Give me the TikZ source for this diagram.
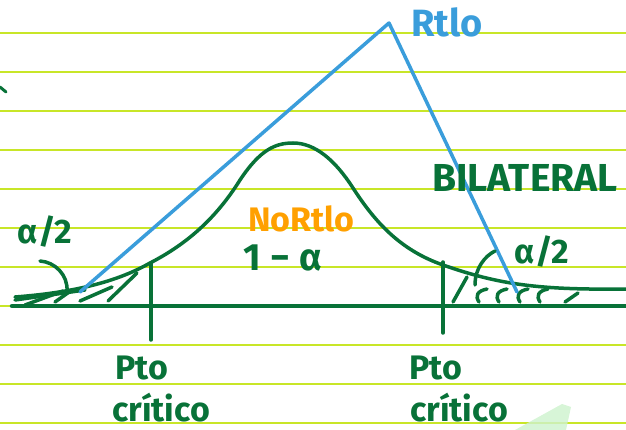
\documentclass[tikz,border=0pt]{standalone}
\usepackage{fontspec}
\setmainfont{Fira Sans}

\definecolor{renglon}{RGB}{200,230,40}
\definecolor{verdeo}{RGB}{8,114,56}
\definecolor{azul}{RGB}{58,157,219}
\definecolor{naranja}{RGB}{255,160,0}
\definecolor{resalte}{RGB}{205,242,205}

\begin{document}
\begin{tikzpicture}[x=1pt, y=-1pt, line width=3.5pt, line cap=round, line join=round,
  trazo/.style={draw=verdeo, line width=3.5pt},
  letra/.style={inner sep=0pt, font=\fontsize{#1}{#1}\selectfont\bfseries}]

  %% ════ renglones del papel ════
  \foreach \y in {33,72,...,423}
    \draw[renglon, line width=2.8pt, line cap=butt] (0,\y) -- (626,\y);

  %% ════ resaltador (mancha de abajo) ════
  \fill[resalte, opacity=0.8] (515,430) -- (562,404) -- (571,407) -- (566,430) -- cycle;
  \draw[trazo, line width=3pt] (0,87) -- (6,92);

  %% ════ eje y puntos críticos ════
  \draw[trazo, line width=4.5pt] (12,306) -- (626,306);
  \draw[trazo] (151,263) -- (151,340);
  \draw[trazo] (443,262) -- (443,333);

  %% ════ campana ════
  \draw[trazo] (15,297) .. controls (80,292) and (120,280) .. (150,263)
    .. controls (185,245) and (215,220) .. (240,180)
    .. controls (260,150) and (275,143) .. (293,143)
    .. controls (315,143) and (335,160) .. (353,188)
    .. controls (375,222) and (400,250) .. (443,265)
    .. controls (500,285) and (540,290) .. (626,289);

  %% ════ rayado de las colas ════
  \draw[trazo] (15,300) -- (85,290);
  \draw[trazo] (25,305) -- (63,291);
  \draw[trazo] (55,302) -- (72,290);
  \draw[trazo] (80,301) -- (112,287);
  \draw[trazo] (108,301) -- (137,273);
  \draw[trazo] (453,302) -- (467,277);
  \foreach \hx in {477,497,518,538}
    \draw[trazo] (\hx+10,289) .. controls (\hx,291) and (\hx-2,296) .. (\hx+2,302);
  \draw[trazo] (565,302) -- (578,293);

  %% ════ recta azul ════
  \draw[azul, line width=3.5pt] (80,292) -- (389,23) -- (517,292);

  %% ════ textos ════
  \node[letra=38, text=azul] (rtlo) at (447,22) {Rtlo};
  \node[letra=34, text=naranja] (nortlo) at (301,219) {NoRtlo};
  \node[letra=38, text=verdeo] (unoalfa) at (283,258) {1 − α};
  \node[letra=39, text=verdeo] (bilateral) at (525,178) {BILATERAL};
  \node[letra=34, text=verdeo] (alfaizq) at (45,232) {α/2};
  \node[letra=34, text=verdeo] (alfader) at (542,252) {α/2};
  \node[letra=34, text=verdeo] (ptoizq) at (142,368) {Pto};
  \node[letra=34, text=verdeo] (critizq) at (161,408) {crítico};
  \node[letra=34, text=verdeo] (ptoder) at (436,368) {Pto};
  \node[letra=34, text=verdeo] (critder) at (459,408) {crítico};

  %% ════ flechitas de α/2 ════
  \coordinate (colaizq) at (67,291);
  \coordinate (colader) at (475,285);
  \draw[trazo] (40,261) .. controls (55,262) and (68,275) .. (colaizq);
  \draw[trazo] (colader) .. controls (475,268) and (485,256) .. (495,251);

  \pgfresetboundingbox
  \path[use as bounding box] (0,0) rectangle (626,430);
\end{tikzpicture}
\end{document}
